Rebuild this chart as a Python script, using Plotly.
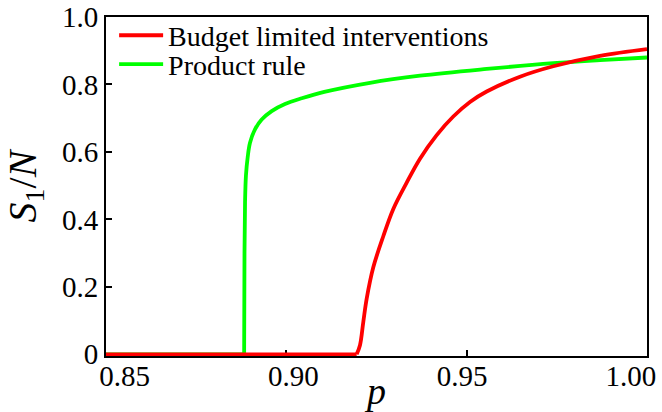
import plotly.graph_objects as go

# Data
p_budget = [0.85, 0.9195, 0.92042, 0.92134, 0.92228, 0.92411, 0.92688, 0.92966,
            0.93337, 0.93706, 0.94169, 0.94629, 0.95092, 0.95555, 0.96478,
            0.97402, 0.98697, 1.0]
s_budget = [0.0, 0.0, 0.027, 0.096, 0.165, 0.258, 0.350, 0.431,
            0.509, 0.580, 0.650, 0.705, 0.748, 0.779, 0.823,
            0.854, 0.885, 0.905]

p_product = [0.85, 0.8883, 0.8884, 0.88855, 0.8888, 0.88929, 0.88993, 0.89131,
             0.89317, 0.89594, 0.89963, 0.90426, 0.91053, 0.9232, 0.93706,
             0.95555, 0.97402, 0.98697, 1.0]
s_product = [0.0, 0.0, 0.30, 0.45, 0.53, 0.585, 0.627, 0.667,
             0.696, 0.721, 0.742, 0.759, 0.778, 0.805, 0.826,
             0.846, 0.863, 0.872, 0.880]

x_tickvals = [0.85, 0.90, 0.95, 1.00]
x_ticktext = ["0.85", "0.90", "0.95", "1.00"]
y_tickvals = [0, 0.2, 0.4, 0.6, 0.8, 1.0]
y_ticktext = ["0", "0.2", "0.4", "0.6", "0.8", "1.0"]

FONT = "Liberation Serif, DejaVu Serif, Times New Roman, serif"
RED = "#FF0000"
GREEN = "#00FF00"
LW = 3.8


def split_flat(xs, ys):
    """Split a curve into its flat zero part and the rising part."""
    k = max(i for i, v in enumerate(ys) if v == 0.0)
    return (xs[:k + 1], ys[:k + 1]), (xs[k:], ys[k:])


fig = go.Figure()
for xs, ys, name, color, leg in [
    (p_product, s_product, "Product rule", GREEN, "legend2"),
    (p_budget, s_budget, "Budget limited interventions", RED, "legend"),
]:
    (fx, fy), (cx, cy) = split_flat(xs, ys)
    fig.add_trace(go.Scatter(x=fx, y=fy, mode="lines", name=name, legendgroup=name,
                             showlegend=False, line=dict(color=color, width=LW),
                             legend=leg))
    fig.add_trace(go.Scatter(x=cx, y=cy, mode="lines", name=name, legendgroup=name,
                             showlegend=True,
                             line=dict(color=color, width=LW, shape="spline", smoothing=1.0),
                             legend=leg))

# Empty trace so the label-only overlay x axis gets drawn
fig.add_trace(go.Scatter(x=x_tickvals, y=[None] * len(x_tickvals), xaxis="x2", yaxis="y",
                         mode="lines", showlegend=False, hoverinfo="skip"))

axis_common = dict(
    showline=True, linecolor="black", linewidth=2, mirror=True,
    ticks="inside", ticklen=6, tickwidth=1.5, tickcolor="black",
    showgrid=False, zeroline=False, automargin=False, layer="below traces",
    ticklabeloverflow="allow",
    tickfont=dict(family=FONT, size=29, color="black"),
)

legend_common = dict(xanchor="left", yanchor="top", bgcolor="rgba(0,0,0,0)",
                     borderwidth=0, itemwidth=44,
                     font=dict(family=FONT, size=28, color="black"))

# The x tick labels of the reference sit on a slightly narrower spacing than
# the tick marks; a label-only overlay axis reproduces that placement.
label_range = [0.84452, 1.00477]

fig.update_layout(
    template="none",
    width=662, height=412,
    margin=dict(l=106, r=15, t=17, b=56, pad=0, autoexpand=False),
    paper_bgcolor="white", plot_bgcolor="white",
    font=dict(family=FONT, color="black"),
    showlegend=True,
    xaxis=dict(range=[0.85, 1.0], tickvals=x_tickvals, showticklabels=False,
               **axis_common),
    xaxis2=dict(range=label_range, overlaying="x", anchor="y", side="bottom",
                tickvals=x_tickvals, ticktext=x_ticktext, ticks="",
                showline=False, showgrid=False, zeroline=False, automargin=False,
                ticklabeloverflow="allow",
                tickfont=dict(family=FONT, size=29, color="black"),
                title=dict(text="<i>p</i>", font=dict(family=FONT, size=38), standoff=0)),
    yaxis=dict(range=[-0.005, 1.0], tickvals=y_tickvals, ticktext=y_ticktext,
               title=dict(text="<i>S</i><sub>1</sub>/<i>N</i>", font=dict(family=FONT, size=40), standoff=24),
               **axis_common),
    legend=dict(x=0.015, y=1.019, **legend_common),
    legend2=dict(x=0.015, y=0.9336, **legend_common),
)

# Remove the default 8px page margin so the 662x412 figure fills the window.
fig.write_html("out.html",
               config={"displayModeBar": False},
               post_script="document.body.style.margin='0';document.body.style.overflow='hidden';")
